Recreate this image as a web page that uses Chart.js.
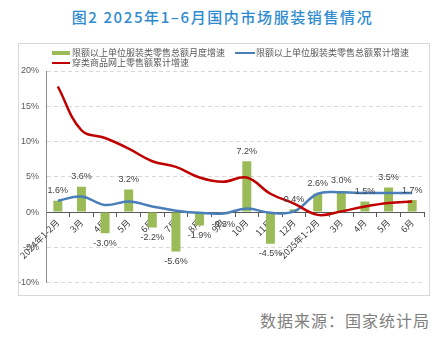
<!DOCTYPE html>
<html>
<head>
<meta charset="utf-8">
<script src="https://cdn.jsdelivr.net/npm/chart.js@4"></script>
<style>
  html, body { margin:0; padding:0; background:#ffffff; }
  body { width:445px; height:355px; position:relative; overflow:hidden; font-family:"Noto Sans CJK SC","Noto Sans",sans-serif; }
  #title { position:absolute; left:0; width:445px; top:6px; text-align:center; font-size:15px; font-weight:500; color:#2e8bcf; letter-spacing:1.6px; line-height:22px; }
  #box { position:absolute; left:18px; top:43px; width:410px; height:251px; border:1px solid #d9d9d9; }
  #box canvas { position:absolute; left:0; top:0; }
  .lg { position:absolute; font-size:9px; line-height:11px; color:#595959; white-space:nowrap; }
  .mk { position:absolute; }
  #source { position:absolute; right:15px; top:310px; font-size:16px; color:#808080; letter-spacing:1px; line-height:20px; }
</style>
</head>
<body>
<div id="title">图2 2025年1–6月国内市场服装销售情况</div>
<div id="box">
  <canvas id="c" width="410" height="251"></canvas>
  <div class="mk" style="left:33px;top:7px;width:18px;height:4px;background:#9bbb59;"></div>
  <div class="lg" style="left:53px;top:3px;">限额以上单位服装类零售总额月度增速</div>
  <div class="mk" style="left:216px;top:8px;width:20px;height:2px;background:#4a7ebb;"></div>
  <div class="lg" style="left:237px;top:3px;">限额以上单位服装类零售总额累计增速</div>
  <div class="mk" style="left:33px;top:18px;width:18px;height:2px;background:#c00000;"></div>
  <div class="lg" style="left:53px;top:13px;">穿类商品网上零售额累计增速</div>
</div>
<div id="source">数据来源：国家统计局</div>
<script>
const categories = ["2024年1-2月","3月","4月","5月","6月","7月","8月","9月","10月","11月","12月","2025年1-2月","3月","4月","5月","6月"];
const monthlyGrowth = [1.6, 3.6, -3.0, 3.2, -2.2, -5.6, -1.9, -0.3, 7.2, -4.5, 0.4, 2.6, 3.0, 1.5, 3.5, 1.7];
const cumulativeGrowth = [1.6, 2.2, 1.0, 1.5, 0.8, 0.2, -0.1, -0.2, 0.5, -0.1, 0.1, 2.6, 2.8, 2.7, 2.7, 2.7];
const onlineGrowth = [17.8, 11.6, 10.5, 9.0, 7.2, 6.4, 4.9, 4.3, 4.9, 2.6, 1.2, -0.4, 0.1, 0.8, 1.3, 1.5];
const yTicks = [-10, -5, 0, 5, 10, 15, 20];
const seriesNames = ["限额以上单位服装类零售总额月度增速","限额以上单位服装类零售总额累计增速","穿类商品网上零售额累计增速"];

const barLabels = {
  id: 'barLabels',
  afterDatasetsDraw(chart) {
    const ctx = chart.ctx;
    const meta = chart.getDatasetMeta(0);
    ctx.save();
    ctx.font = '9px "Liberation Sans", sans-serif';
    ctx.fillStyle = '#404040';
    ctx.textAlign = 'center';
    ctx.textBaseline = 'middle';
    meta.data.forEach((el, i) => {
      const v = monthlyGrowth[i];
      const y = v >= 0 ? el.y - 10 : el.y + 10;
      ctx.fillText(v.toFixed(1) + '%', el.x, y);
    });
    ctx.restore();
  }
};

new Chart(document.getElementById('c'), {
  type: 'bar',
  data: {
    labels: categories,
    datasets: [
      { type:'bar', label: seriesNames[0], data: monthlyGrowth, backgroundColor:'#9bbb59', barPercentage:0.38, categoryPercentage:1.0, order:2 },
      { type:'line', label: seriesNames[1], data: cumulativeGrowth, borderColor:'#4a7ebb', borderWidth:2.5, pointRadius:0, tension:0.4, fill:false, order:1 },
      { type:'line', label: seriesNames[2], data: onlineGrowth, borderColor:'#c00000', borderWidth:2.5, pointRadius:0, tension:0.4, fill:false, order:0 }
    ]
  },
  options: {
    responsive:false,
    animation:false,
    layout: { padding: { top:27, bottom:8, right:5, left:0 } },
    plugins: { legend:{ display:false }, tooltip:{ enabled:false } },
    scales: {
      x: {
        position: { y: 0 },
        grid: { display:true, drawOnChartArea:false, drawTicks:true, tickLength:4, color:'#595959', offset:true },
        border: { display:true, color:'#595959', width:1 },
        ticks: { autoSkip:false, maxRotation:45, minRotation:45, color:'#404040', font:{ family:'"Noto Sans CJK SC"', size:9 }, padding:1 }
      },
      y: {
        min:-10, max:20,
        afterBuildTicks(scale) { scale.ticks = yTicks.map(v => ({ value: v })); },
        afterFit(scale) { scale.width = 27; },
        grid: { color:'#d9d9d9', drawTicks:false },
        border: { display:true, color:'#8c8c8c', dash:[4,3] },
        ticks: { color:'#595959', padding:7, font:{ family:'"Liberation Sans"', size:9 }, callback:(v) => v + '%' }
      }
    }
  },
  plugins: [barLabels]
});
</script>
</body>
</html>
